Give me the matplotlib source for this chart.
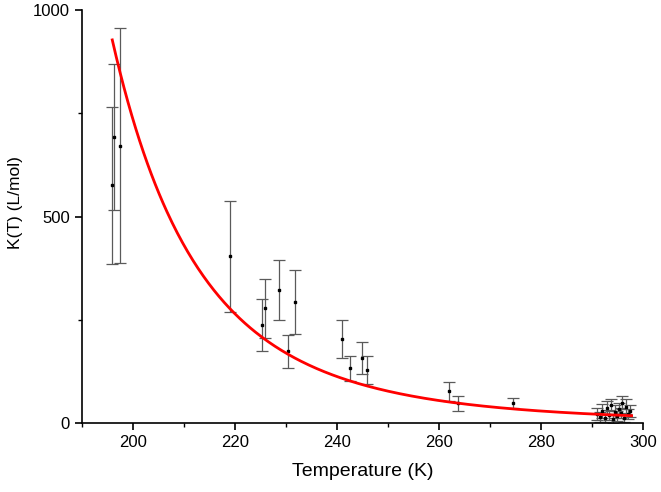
import numpy as np
import matplotlib
matplotlib.use("Agg")
import matplotlib.pyplot as plt
from matplotlib.ticker import MultipleLocator

plt.rcParams['font.family'] = ['Liberation Sans', 'DejaVu Sans']

# Measured data: temperature (K), K(T) (L/mol), symmetric error
temps = [196.0, 196.3, 197.5, 219.0, 225.3, 226.0, 228.6, 230.5, 231.7,
         241.0, 242.5, 245.0, 245.9, 262.0, 263.7, 274.4,
         290.9, 291.5, 292.0, 292.4, 292.8, 293.2, 293.6, 294.0, 294.4,
         294.8, 295.2, 295.6, 295.9, 296.2, 296.6, 297.0, 297.4]
kvals = [576, 693, 672, 404, 237, 278, 323, 174, 294,
         204, 133, 158, 128, 77, 48, 49,
         22, 15, 30, 12, 38, 20, 45, 10, 28,
         18, 35, 25, 50, 14, 40, 22, 30]
kerrs = [190, 176, 285, 134, 63, 72, 73, 40, 77,
         45, 31, 38, 34, 22, 17, 12,
         15, 12, 16, 10, 15, 12, 14, 10, 16,
         12, 15, 12, 16, 10, 18, 12, 14]

# Van 't Hoff fit: K(T) = K_ref * exp(B * (1/T - 1/T_ref))
fit_B = 2249.0
fit_T_ref = 298.15
fit_K_ref = 18.2
fit_T_range = (196.0, 297.7)

fig = plt.figure(figsize=(6.61, 4.92), dpi=100)
ax = fig.add_axes([0.1235, 0.1396, 0.8498, 0.840])

T_fit = np.linspace(fit_T_range[0], fit_T_range[1], 400)
K_fit = fit_K_ref * np.exp(fit_B * (1.0 / T_fit - 1.0 / fit_T_ref))

ax.errorbar(temps, kvals, yerr=kerrs, fmt='s', color='black', ms=2.0,
            ecolor='#5a5a5a', elinewidth=0.9, capsize=4, capthick=0.9, zorder=2)
ax.plot(T_fit, K_fit, color='#ff0000', lw=2, zorder=3)

ax.set_xlim(190, 300)
ax.set_ylim(0, 1000)
ax.xaxis.set_major_locator(MultipleLocator(20))
ax.xaxis.set_minor_locator(MultipleLocator(10))
ax.yaxis.set_major_locator(MultipleLocator(500))
ax.yaxis.set_minor_locator(MultipleLocator(250))

for s in ['top', 'right']:
    ax.spines[s].set_visible(False)
for s in ['left', 'bottom']:
    ax.spines[s].set_linewidth(1.2)
ax.tick_params(which='major', direction='out', length=5, width=1.2, labelsize=12)
ax.tick_params(which='minor', direction='out', length=3, width=1.0)

ax.set_xlabel('Temperature (K)', fontsize=14, labelpad=9)
ax.set_ylabel('K(T) (L/mol)', fontsize=12.5)
ax.yaxis.set_label_coords(-0.104, 0.533)

fig.savefig('out.png', dpi=100)
